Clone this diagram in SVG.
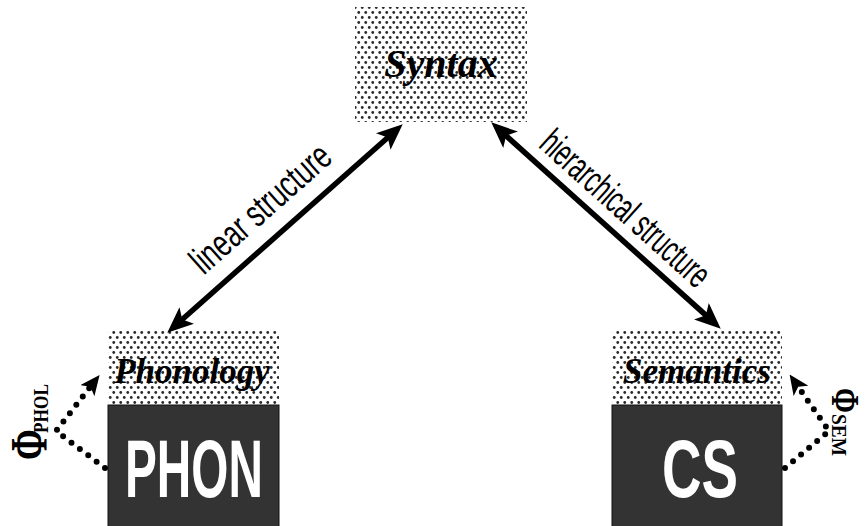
<svg xmlns="http://www.w3.org/2000/svg" width="868" height="526" viewBox="0 0 868 526">
<defs>
<pattern id="dots" patternUnits="userSpaceOnUse" width="7" height="10">
<rect width="7" height="10" fill="#ffffff"/>
<circle cx="1.75" cy="2.5" r="1.4" fill="#2a2a2a"/>
<circle cx="5.25" cy="7.5" r="1.4" fill="#2a2a2a"/>
</pattern>
<marker id="ah" markerUnits="userSpaceOnUse" viewBox="0 0 26 22" markerWidth="26" markerHeight="22" refX="11" refY="11" orient="auto-start-reverse">
<path d="M0,0 L26,11 L0,22 L6,11 Z" fill="#000"/>
</marker>
<marker id="ahs" markerUnits="userSpaceOnUse" viewBox="0 0 20 18" markerWidth="20" markerHeight="18" refX="6" refY="9" orient="auto">
<path d="M0,0 L20,9 L0,18 L5,9 Z" fill="#000"/>
</marker>
<style>
.lvl{fill:url(#dots);}
.dark{fill:#333333;stroke:#111;stroke-width:1;}
.ttl{font-family:"Liberation Serif",serif;font-weight:bold;font-style:italic;fill:#000;text-anchor:middle;}
.big{font-family:"Liberation Sans",Arial,sans-serif;font-weight:bold;font-size:82px;fill:#fff;text-anchor:middle;}
.lab{font-family:"Liberation Sans",Arial,sans-serif;font-size:38px;fill:#000;text-anchor:middle;}
.sym{font-family:"Liberation Serif",serif;font-weight:bold;fill:#000;}
.arr{stroke:#000;stroke-width:5.5;fill:none;marker-start:url(#ah);marker-end:url(#ah);}
.dot{stroke:#000;stroke-width:6;stroke-linecap:round;stroke-linejoin:round;stroke-dasharray:0 10.5;fill:none;marker-end:url(#ahs);}
</style>
</defs>

<g id="syntax">
<rect class="lvl" x="355" y="7" width="172" height="115"/>
<text class="ttl" x="441" y="77" font-size="40">Syntax</text>
</g>

<g id="phonology">
<rect class="lvl" x="108" y="329" width="171" height="76"/>
<text class="ttl" x="192" y="383" font-size="35">Phonology</text>
</g>

<g id="phon">
<rect class="dark" x="108" y="405" width="171" height="122"/>
<text class="big" x="194" y="497" textLength="138" lengthAdjust="spacingAndGlyphs">PHON</text>
</g>

<g id="semantics">
<rect class="lvl" x="612" y="329" width="170" height="76"/>
<text class="ttl" x="697" y="383" font-size="35">Semantics</text>
</g>

<g id="cs">
<rect class="dark" x="612" y="405" width="170" height="122"/>
<text class="big" x="700" y="497" textLength="76" lengthAdjust="spacingAndGlyphs">CS</text>
</g>

<g id="phi-phol">
<g transform="translate(47,460) rotate(-90)">
<text class="sym" transform="scale(1,1.45)" font-size="37">Φ</text>
<text class="sym" x="27" y="1" font-size="20" textLength="49" lengthAdjust="spacingAndGlyphs">PHOL</text>
</g>
</g>

<g id="phi-sem">
<g transform="translate(832,388) rotate(90)">
<text class="sym" transform="scale(1,1.3)" font-size="30">Φ</text>
<text class="sym" x="26" y="0" font-size="20" textLength="42" lengthAdjust="spacingAndGlyphs">SEM</text>
</g>
</g>

<g id="connectors">
<line class="arr" x1="391.5" y1="134.3" x2="178.5" y2="322.7"/>
<line class="arr" x1="502.4" y1="132.4" x2="709.6" y2="318.6"/>
<polyline class="dot" points="105,468 56,431 91,386"/>
<polyline class="dot" points="785,468 829,431 797.6,386"/>
<text class="lab" transform="translate(269,218) rotate(-41.5)" textLength="174" lengthAdjust="spacingAndGlyphs">linear structure</text>
<text class="lab" transform="translate(617,218) rotate(42)" textLength="214" lengthAdjust="spacingAndGlyphs">hierarchical structure</text>
</g>
</svg>
